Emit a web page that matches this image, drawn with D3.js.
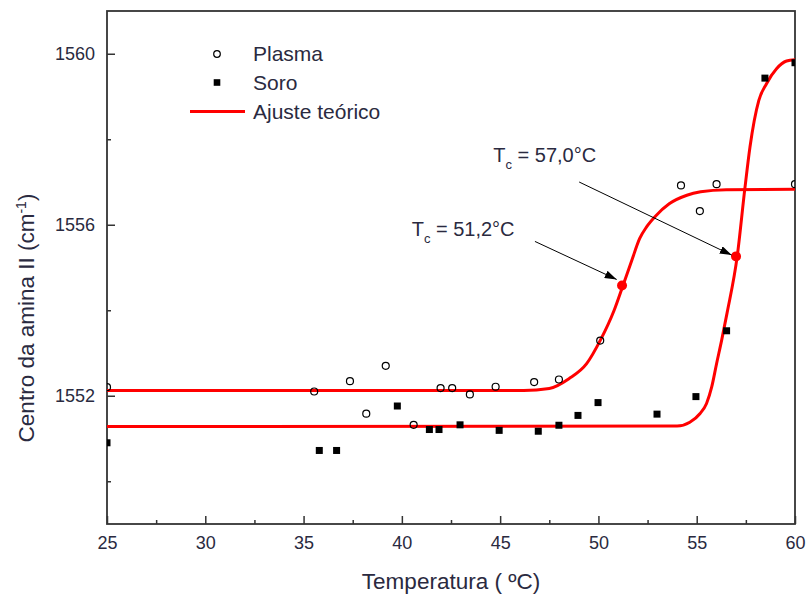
<!DOCTYPE html>
<html>
<head>
<meta charset="utf-8">
<script src="https://cdn.jsdelivr.net/npm/d3@7"></script>
<style>
  body { margin: 0; background: #fff; }
  svg { font-family: 'Liberation Sans', Arial, sans-serif; }
</style>
</head>
<body>
<div id="chart"></div>
<script>
// measured points
let plasmaT = [25, 35.54, 37.36, 38.19, 39.18, 40.6, 41.97, 42.56, 43.46, 44.77, 46.73, 47.99, 50.09, 54.2, 55.16, 56.01, 60]
let plasmaV = [1552.2, 1552.1, 1552.34, 1551.58, 1552.7, 1551.32, 1552.18, 1552.18, 1552.03, 1552.21, 1552.32, 1552.38, 1553.29, 1556.92, 1556.32, 1556.95, 1556.95]

let soroT = [25, 35.8, 36.68, 39.77, 41.4, 41.89, 42.96, 44.95, 46.94, 47.99, 48.96, 49.98, 52.98, 54.96, 56.52, 58.47, 60]
let soroV = [1550.9, 1550.72, 1550.72, 1551.76, 1551.21, 1551.21, 1551.32, 1551.19, 1551.17, 1551.31, 1551.54, 1551.84, 1551.57, 1551.98, 1553.52, 1559.43, 1559.79]

// fitted curves
let fitPlasmaT = [25, 46.2, 47.5, 48.5, 49.4, 50.1, 50.8, 51.25, 51.7, 52.1, 52.45, 52.9, 53.6, 54.5, 55.2, 56.5, 60]
let fitPlasmaV = [1552.12, 1552.12, 1552.17, 1552.4, 1552.75, 1553.3, 1554.0, 1554.58, 1555.17, 1555.68, 1555.95, 1556.2, 1556.49, 1556.69, 1556.77, 1556.82, 1556.83]

let fitSoroT = [25, 54.0, 54.65, 55.16, 55.5, 55.76, 56.01, 56.27, 56.55, 57.06, 57.45, 57.71, 58.16, 58.55, 59.06, 59.57, 60]
let fitSoroV = [1551.28, 1551.29, 1551.38, 1551.58, 1551.82, 1552.2, 1552.75, 1553.3, 1553.95, 1555.26, 1556.85, 1557.82, 1558.91, 1559.3, 1559.65, 1559.83, 1559.86]

// transition temperatures
let tcT = [51.2, 57.0]
let tcV = [1554.58, 1555.26]
let tcLabels = ['51,2°C', '57,0°C']

let xTicks = [25, 30, 35, 40, 45, 50, 55, 60]
let yTicks = [1552, 1556, 1560]
let legendLabels = ['Plasma', 'Soro', 'Ajuste teórico']

let margin = { top: 11, left: 107, right: 11, bottom: 73 }
let width = 806 - margin.left - margin.right
let height = 597 - margin.top - margin.bottom

let svg = d3.select('#chart')
  .append('svg')
  .attr('width', 806)
  .attr('height', 597)

let g = svg.append('g')
  .attr('transform', `translate(${margin.left},${margin.top})`)

let x = d3.scaleLinear().domain([25, 60]).range([0, width])
let y = d3.scaleLinear().domain([1549, 1561]).range([height, 0])

svg.append('defs').append('clipPath')
  .attr('id', 'clip')
  .append('rect')
  .attr('width', width)
  .attr('height', height)

svg.select('defs').append('marker')
  .attr('id', 'arrow')
  .attr('viewBox', '0 0 12 8')
  .attr('refX', 12)
  .attr('refY', 4)
  .attr('markerWidth', 12)
  .attr('markerHeight', 8)
  .attr('markerUnits', 'userSpaceOnUse')
  .attr('orient', 'auto')
  .append('path')
  .attr('d', 'M0,0 L12,4 L0,8 Z')
  .attr('fill', '#000')

// axes: ticks point inward
let xMinor = d3.range(27.5, 60, 5)
let yMinor = [1550, 1554, 1558]

g.append('g')
  .attr('class', 'x-minor')
  .attr('transform', `translate(0,${height})`)
  .call(d3.axisBottom(x).tickValues(xMinor).tickSize(-4).tickFormat(''))

g.append('g')
  .attr('class', 'y-minor')
  .call(d3.axisLeft(y).tickValues(yMinor).tickSize(-4).tickFormat(''))

g.append('g')
  .attr('transform', `translate(0,${height})`)
  .call(d3.axisBottom(x).tickValues(xTicks).tickSize(-8).tickPadding(12).tickSizeOuter(0).tickFormat(d3.format('d')))

g.append('g')
  .call(d3.axisLeft(y).tickValues(yTicks).tickSize(-8).tickPadding(12).tickSizeOuter(0).tickFormat(d3.format('d')))

g.selectAll('.domain').remove()
g.selectAll('.tick line').attr('stroke', '#333').attr('stroke-width', 1.5)
g.selectAll('.tick text')
  .attr('font-size', 18)
  .attr('font-family', "'Liberation Sans', Arial, sans-serif")
  .attr('fill', '#2a2a40')

// frame
g.append('rect')
  .attr('width', width)
  .attr('height', height)
  .attr('fill', 'none')
  .attr('stroke', '#333')
  .attr('stroke-width', 1.8)

let plot = g.append('g').attr('clip-path', 'url(#clip)')

let line = d3.line()
  .x(d => x(d[0]))
  .y(d => y(d[1]))
  .curve(d3.curveMonotoneX)

let fits = [
  d3.zip(fitPlasmaT, fitPlasmaV),
  d3.zip(fitSoroT, fitSoroV)
]

plot.selectAll('.fit')
  .data(fits)
  .enter()
  .append('path')
  .attr('class', 'fit')
  .attr('d', line)
  .attr('fill', 'none')
  .attr('stroke', '#ff0000')
  .attr('stroke-width', 3)

plot.selectAll('.plasma')
  .data(d3.zip(plasmaT, plasmaV))
  .enter()
  .append('circle')
  .attr('class', 'plasma')
  .attr('cx', d => x(d[0]))
  .attr('cy', d => y(d[1]))
  .attr('r', 3.5)
  .attr('fill', 'none')
  .attr('stroke', '#000')
  .attr('stroke-width', 1.2)

plot.selectAll('.soro')
  .data(d3.zip(soroT, soroV))
  .enter()
  .append('rect')
  .attr('class', 'soro')
  .attr('x', d => x(d[0]) - 3.5)
  .attr('y', d => y(d[1]) - 3.5)
  .attr('width', 7)
  .attr('height', 7)
  .attr('fill', '#000')

plot.selectAll('.tc')
  .data(d3.zip(tcT, tcV))
  .enter()
  .append('circle')
  .attr('class', 'tc')
  .attr('cx', d => x(d[0]))
  .attr('cy', d => y(d[1]))
  .attr('r', 5)
  .attr('fill', '#ff0000')

// annotations (data units)
let arrows = [
  [[46.77, 1555.61], [50.93, 1554.72]],
  [[49.02, 1557.0], [56.78, 1555.29]]
]
let labelPos = [[40.5, 1555.73], [44.65, 1557.47]]

g.selectAll('.arrow')
  .data(arrows)
  .enter()
  .append('line')
  .attr('class', 'arrow')
  .attr('x1', d => x(d[0][0]))
  .attr('y1', d => y(d[0][1]))
  .attr('x2', d => x(d[1][0]))
  .attr('y2', d => y(d[1][1]))
  .attr('stroke', '#000')
  .attr('stroke-width', 1)
  .attr('marker-end', 'url(#arrow)')

let tcText = g.selectAll('.tc-label')
  .data(d3.zip(labelPos, tcLabels))
  .enter()
  .append('text')
  .attr('class', 'tc-label')
  .attr('x', d => x(d[0][0]))
  .attr('y', d => y(d[0][1]))
  .attr('font-size', 20)
  .attr('fill', '#2a2a40')

tcText.append('tspan').text('T')
tcText.append('tspan').attr('dy', 7).attr('font-size', 13).text('c')
tcText.append('tspan').attr('dy', -7).text(d => ' = ' + d[1])

// legend
let legend = svg.append('g').attr('transform', 'translate(217,54)')

legend.append('circle')
  .attr('r', 3.3)
  .attr('fill', 'none')
  .attr('stroke', '#000')
  .attr('stroke-width', 1.2)

legend.append('rect')
  .attr('x', -3.3)
  .attr('y', 28.5 - 3.3)
  .attr('width', 6.6)
  .attr('height', 6.6)
  .attr('fill', '#000')

legend.append('line')
  .attr('x1', -27)
  .attr('x2', 28)
  .attr('y1', 57.5)
  .attr('y2', 57.5)
  .attr('stroke', '#ff0000')
  .attr('stroke-width', 3)

legend.selectAll('.leg-text')
  .data(legendLabels)
  .enter()
  .append('text')
  .attr('class', 'leg-text')
  .attr('x', 36)
  .attr('y', (d, i) => i * 29 + 7)
  .attr('font-size', 21)
  .attr('fill', '#2a2a40')
  .text(d => d)

// axis titles
svg.append('text')
  .attr('x', margin.left + width / 2)
  .attr('y', 589)
  .attr('text-anchor', 'middle')
  .attr('font-size', 22.5)
  .attr('fill', '#2a2a40')
  .text('Temperatura ( ºC)')

let yTitle = svg.append('text')
  .attr('transform', 'translate(34,318) rotate(-90)')
  .attr('text-anchor', 'middle')
  .attr('font-size', 22.5)
  .attr('fill', '#2a2a40')

yTitle.append('tspan').text('Centro da amina II (cm')
yTitle.append('tspan').attr('dy', -8).attr('font-size', 14).text('-1')
yTitle.append('tspan').attr('dy', 8).text(')')
</script>
</body>
</html>
